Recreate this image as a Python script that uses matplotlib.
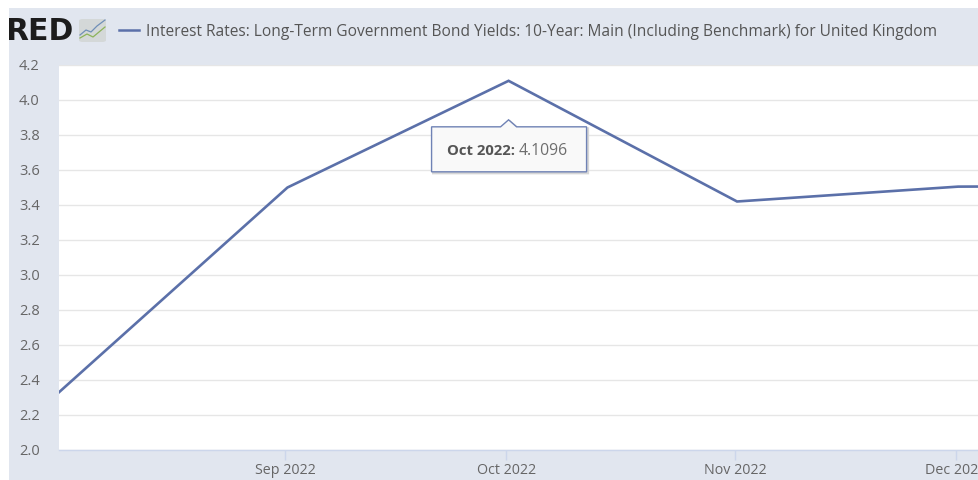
import matplotlib
matplotlib.use("Agg")
import matplotlib.pyplot as plt
import matplotlib.dates as mdates
from matplotlib.patches import Rectangle, FancyBboxPatch, Polygon
from matplotlib.transforms import Affine2D, ScaledTranslation
from datetime import datetime, timedelta

# Monthly UK 10-year government bond yields
months = ["2022-08-01", "2022-09-01", "2022-10-01", "2022-11-01", "2022-12-01", "2023-01-01"]
yields = [2.33, 3.50, 4.1096, 3.42, 3.505, 3.51]
tick_months = ["2022-09-01", "2022-10-01", "2022-11-01", "2022-12-01"]
tick_labels = ["Sep 2022", "Oct 2022", "Nov 2022", "Dec 2022"]
y_ticks = [2.0, 2.2, 2.4, 2.6, 2.8, 3.0, 3.2, 3.4, 3.6, 3.8, 4.0, 4.2]
series_name = "Interest Rates: Long-Term Government Bond Yields: 10-Year: Main (Including Benchmark) for United Kingdom"
tip_month = "Oct 2022:"
tip_value = "4.1096"

W, H = 979, 481
PANEL = "#e1e6ef"
LINE = "#5b70a9"
TEXT = "#666666"

plt.rcParams["font.family"] = ["Open Sans", "DejaVu Sans"]
fig = plt.figure(figsize=(W / 100, H / 100), dpi=100, facecolor="white")


def fx(px):
    return px / W


def fy(py):
    return 1 - py / H


# Page-coloured backdrop behind the chart and header
fig.add_artist(Rectangle((fx(9), 0), 1 - fx(9), fy(9), transform=fig.transFigure,
                         facecolor=PANEL, edgecolor="none", zorder=-5))

ax = fig.add_axes([fx(59), fy(451), fx(979 - 59), (451 - 66) / H])
ax.set_facecolor("white")

dates = [datetime.fromisoformat(m) for m in months]
ticks = [datetime.fromisoformat(m) - timedelta(hours=7) for m in tick_months]

ax.plot(dates, yields, color=LINE, lw=1.9, solid_joinstyle="miter", zorder=3)

ax.set_xlim(dates[0], dates[0] + timedelta(days=920 / 7.37))
ax.set_ylim(2.0, 4.2)
ax.set_yticks(y_ticks)
ax.set_yticklabels([f"{v:.1f}" for v in y_ticks], color=TEXT, fontsize=10.5)
ax.set_xticks(ticks)
ax.set_xticklabels(tick_labels, color=TEXT, fontsize=10.3)
ax.tick_params(axis="y", length=0)
ax.tick_params(axis="x", length=7.5, width=1, color="#ccd6eb", pad=1.5)
ax.grid(axis="y", color="#e6e6e6", lw=1)
ax.set_axisbelow(True)
for side in ("top", "right", "left"):
    ax.spines[side].set_visible(False)
ax.spines["bottom"].set_color("#ccd6eb")
ax.spines["bottom"].set_linewidth(1)
for lab in ax.get_yticklabels():
    lab.set_horizontalalignment("left")
    lab.set_transform(ax.get_yaxis_transform()
                      + ScaledTranslation(-40 / 100, 1.5 / 100, fig.dpi_scale_trans))

# Header: wordmark cut by the panel edge, graph badge, legend key and series title
fig.text(fx(73), fy(32), "RED", fontsize=21.5, fontweight="bold", family="DejaVu Sans",
         color="#1c1c1c", ha="right", va="center")
fig.add_artist(Rectangle((0, fy(50)), fx(9), fy(9) - fy(50), transform=fig.transFigure,
                         facecolor="white", edgecolor="none", zorder=10))
fig.add_artist(FancyBboxPatch((fx(79), fy(43)), fx(27), fy(20) - fy(43),
                              boxstyle="round,pad=0,rounding_size=0.004",
                              transform=fig.transFigure, facecolor="#d4d8d8",
                              edgecolor="none", mutation_aspect=1))
fig.add_artist(plt.Line2D([fx(p) for p in (80, 86, 91, 97, 105)],
                          [fy(p) for p in (36, 31, 33, 27, 21)],
                          color="#6f8fb8", lw=0.9, transform=fig.transFigure))
fig.add_artist(plt.Line2D([fx(p) for p in (80, 87, 93, 99, 105)],
                          [fy(p) for p in (39, 35, 38, 33, 28)],
                          color="#8cb35a", lw=0.9, transform=fig.transFigure))
fig.add_artist(plt.Line2D([fx(119), fx(139)], [fy(30.5), fy(30.5)], color=LINE, lw=1.8,
                          transform=fig.transFigure))
fig.text(fx(146), fy(32), series_name, fontsize=11.2, color="#555555", fontweight="medium",
         ha="left", va="center")

# Tooltip anchored to the October peak, laid out in pixel offsets from that point
peak = ax.transData.transform((mdates.date2num(dates[2]), yields[2]))
to_px = Affine2D().translate(peak[0], peak[1])
outline = [(-77, -46), (-8, -46), (0, -39), (8, -46), (78, -46), (78, -91), (-77, -91)]
shadow = Polygon(outline, closed=True, transform=Affine2D().translate(peak[0] + 1.5, peak[1] - 1.5),
                 facecolor="#d6d6d6", edgecolor="#d6d6d6", lw=1.5, zorder=5)
fig.add_artist(shadow)
fig.add_artist(Polygon(outline, closed=True, transform=to_px, facecolor="#f9f9f9",
                       edgecolor="#6f82b5", lw=1, zorder=6))
fig.text(fx(447), fy(151), tip_month, fontsize=10.7, fontweight="bold",
         color="#555555", ha="left", va="center", zorder=7)
fig.text(fx(519), fy(151), tip_value, fontsize=11.3, color="#6e6e6e", ha="left", va="center", zorder=7)

fig.savefig("out.png", dpi=100, facecolor="white")
